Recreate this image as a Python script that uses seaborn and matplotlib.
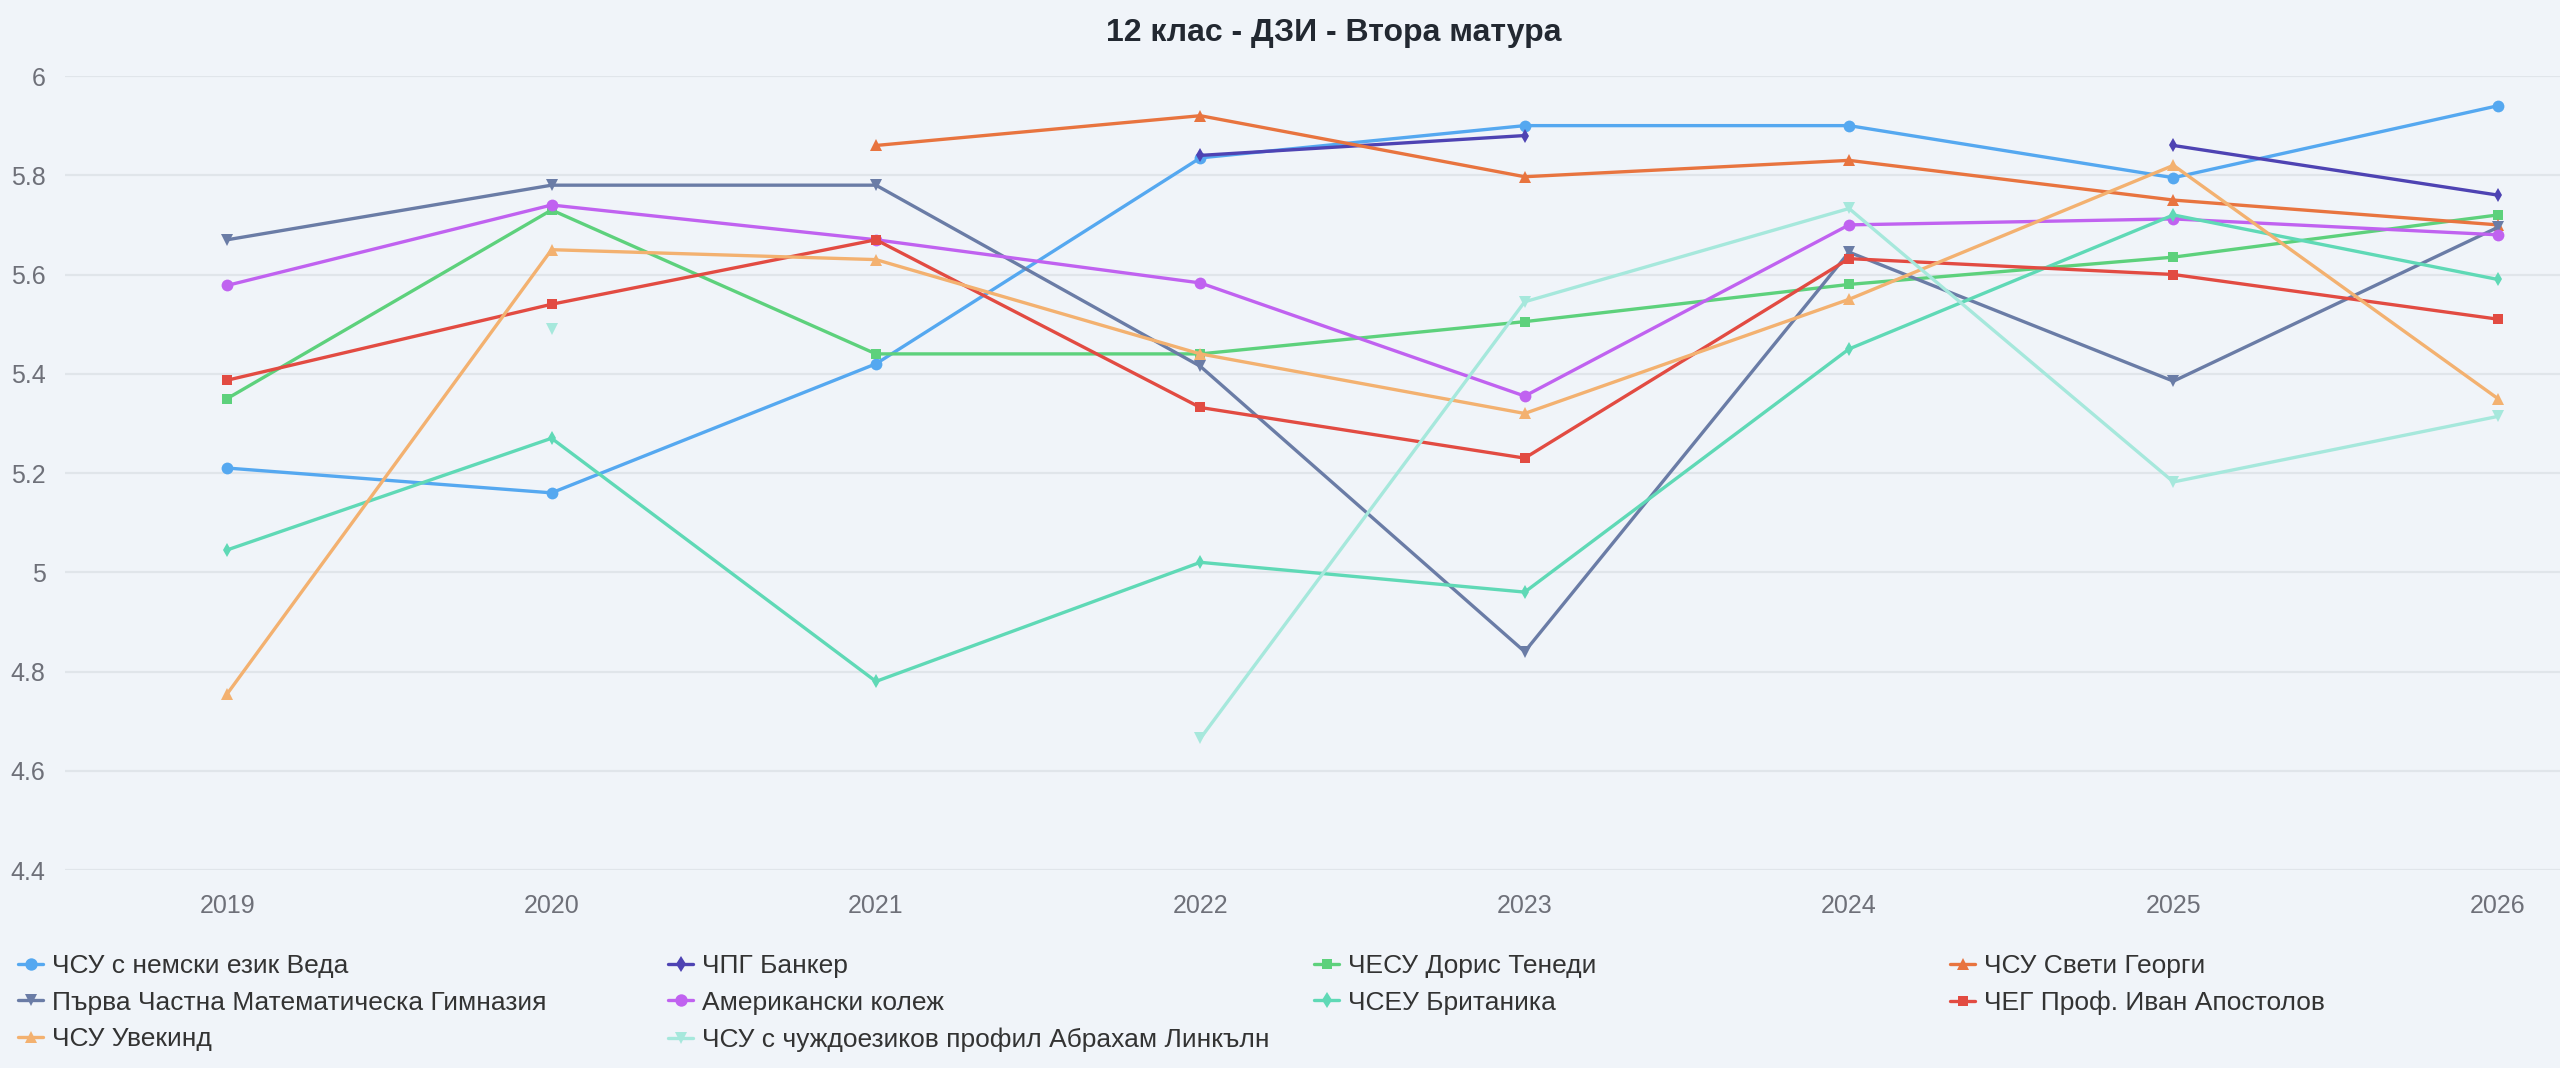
import numpy as np
import pandas as pd
import matplotlib
matplotlib.use("Agg")
import matplotlib.pyplot as plt
import seaborn as sns
from matplotlib.lines import Line2D

nan = np.nan
years = [2019, 2020, 2021, 2022, 2023, 2024, 2025, 2026]

schools = [
    "ЧСУ с немски език Веда",
    "ЧПГ Банкер",
    "ЧЕСУ Дорис Тенеди",
    "ЧСУ Свети Георги",
    "Първа Частна Математическа Гимназия",
    "Американски колеж",
    "ЧСЕУ Британика",
    "ЧЕГ Проф. Иван Апостолов",
    "ЧСУ Увекинд",
    "ЧСУ с чуждоезиков профил Абрахам Линкълн",
]

veda = [5.21, 5.16, 5.42, 5.835, 5.90, 5.90, 5.795, 5.94]
banker = [nan, nan, nan, 5.84, 5.88, nan, 5.86, 5.76]
doris = [5.35, 5.73, 5.44, 5.44, 5.505, 5.58, 5.635, 5.72]
georgi = [nan, nan, 5.86, 5.92, 5.797, 5.83, 5.75, 5.70]
pchmg = [5.67, 5.78, 5.78, 5.415, 4.84, 5.645, 5.385, 5.695]
american = [5.578, 5.74, 5.67, 5.583, 5.355, 5.70, 5.712, 5.68]
britanika = [5.045, 5.27, 4.78, 5.02, 4.96, 5.45, 5.72, 5.59]
apostolov = [5.387, 5.54, 5.67, 5.332, 5.23, 5.632, 5.60, 5.51]
uvekind = [4.755, 5.65, 5.63, 5.44, 5.32, 5.55, 5.82, 5.35]
lincoln = [nan, 5.49, nan, 4.665, 5.545, 5.733, 5.182, 5.314]

series = [veda, banker, doris, georgi, pchmg, american, britanika, apostolov, uvekind, lincoln]

colors = ["#55a8f0", "#4e43b3", "#5dd17c", "#e8743f", "#6a7ca6",
          "#c062f0", "#5fd9b6", "#e24b42", "#f3b170", "#a6e8dc"]
markers = ["o", "d", "s", "^", "v", "o", "d", "s", "^", "v"]
msizes = [8.5, 7.5, 7.5, 8.5, 8.5, 8.5, 7.5, 7.5, 8.5, 8.5]

y_ticks = [4.4, 4.6, 4.8, 5.0, 5.2, 5.4, 5.6, 5.8, 6.0]
title = "12 клас - ДЗИ - Втора матура"

# long table with contiguous segments as units (gaps break the line)
rows = []
for name, vals in zip(schools, series):
    seg = 0
    prev_nan = True
    for yr, v in zip(years, vals):
        if np.isnan(v):
            prev_nan = True
            continue
        if prev_nan:
            seg += 1
        prev_nan = False
        rows.append({"school": name, "year": yr, "value": v, "seg": f"{name}_{seg}"})
df = pd.DataFrame(rows)

bg = "#f0f4f9"
sns.set_theme(style="white")
plt.rcParams["font.family"] = ["Liberation Sans", "DejaVu Sans"]

W, H = 2560, 1068
fig = plt.figure(figsize=(W / 100, H / 100), dpi=100, facecolor=bg)
ax = fig.add_axes([65 / W, 1 - 870 / H, (2660 - 65) / W, (870 - 76) / H])
ax.set_facecolor(bg)

palette = dict(zip(schools, colors))
marker_map = dict(zip(schools, markers))
sns.lineplot(data=df, x="year", y="value", hue="school", style="school",
             units="seg", estimator=None, hue_order=schools, style_order=schools,
             palette=palette, markers=marker_map, dashes=False, sort=True,
             linewidth=2.4, markersize=8, markeredgewidth=0, legend=False, ax=ax)

for line in ax.get_lines():
    c = matplotlib.colors.to_hex(line.get_color())
    if c in colors:
        line.set_markersize(msizes[colors.index(c)])
        line.set_solid_joinstyle("round")

ax.set_xlim(2018.5, 2026.5)
ax.set_ylim(4.4, 6.0)
ax.set_xticks(years)
ax.set_xticklabels([str(y) for y in years])
ax.set_yticks(y_ticks)
ax.set_yticklabels([f"{v:g}" for v in y_ticks])
ax.set_xlabel("")
ax.set_ylabel("")
for s in ax.spines.values():
    s.set_visible(False)
ax.grid(axis="y", color="#e0e5ea", linewidth=1.6)
ax.grid(axis="x", visible=False)
ax.set_axisbelow(True)
ax.tick_params(axis="y", length=0, pad=14, labelsize=18, labelcolor="#6e7079")
ax.tick_params(axis="x", length=0, pad=17, labelsize=18, labelcolor="#6e7079")

fig.text(1334 / W, 1 - 33 / H, title, ha="center", va="center",
         fontsize=23, fontweight="bold", color="#222831")

# legend: 4 columns, row-major order as in reference
col_x = [18, 668, 1314, 1950]
handles = [Line2D([0], [0], color=c, marker=m, markersize=s * 1.05, linewidth=2.4,
                  markeredgewidth=0) for c, m, s in zip(colors, markers, msizes)]
for ci in range(4):
    idx = [i for i in range(len(schools)) if i % 4 == ci]
    leg = fig.legend([handles[i] for i in idx], [schools[i] for i in idx],
                     loc="upper left", bbox_to_anchor=(col_x[ci] / W, 1 - 954 / H),
                     frameon=False, fontsize=19, handlelength=0.95, handletextpad=0.32,
                     labelspacing=0.48, borderaxespad=0, borderpad=0)
    for t in leg.get_texts():
        t.set_color("#333333")

fig.savefig("out.png", dpi=100, facecolor=bg)
